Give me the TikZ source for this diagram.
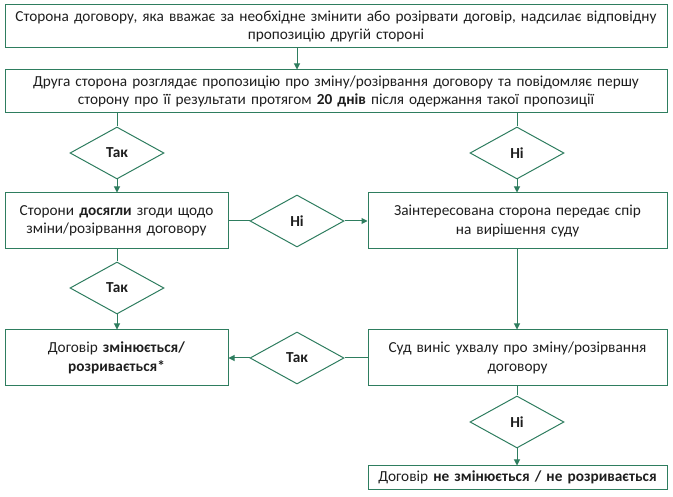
\documentclass[tikz,border=0pt]{standalone}
\usepackage{fontspec}
\setmainfont{Carlito}
\usetikzlibrary{shapes.geometric,arrows.meta,calc}
\definecolor{grn}{HTML}{2E7D5F}
\definecolor{txt}{HTML}{1E1E1E}
\begin{document}
\begin{tikzpicture}[x=1pt,y=-1pt,
  every node/.style={font=\fontsize{15.3}{18.5}\selectfont, text=txt},
  box/.style={draw=grn, line width=1pt, align=center, inner sep=0pt, minimum height=#1},
  box/.default=56pt,
  dec/.style={draw=grn, line width=1pt, diamond, inner sep=0pt, minimum width=94pt, minimum height=52pt, font=\fontsize{15.3}{18}\selectfont\bfseries},
  ln/.style={draw=grn, line width=1pt},
  arr/.style={ln, -{Triangle[length=6pt,width=6pt]}}]
\useasboundingbox (0,0) rectangle (673,497);
\node[box=43pt, minimum width=662pt, text width=660pt] (b1) at (336,26.5)
  {Сторона договору, яка вважає за необхідне змінити або розірвати договір, надсилає відповідну\\пропозицію другій стороні};
\node[box=43pt, minimum width=662pt, text width=660pt] (b2) at (336,91.5)
  {Друга сторона розглядає пропозицію про зміну/розірвання договору та повідомляє першу\\сторону про її результати протягом \textbf{20 днів} після одержання такої пропозиції};
\node[dec] (t1) at (117,153) {Так};
\node[dec] (n1) at (517,153) {Ні};
\node[box, minimum width=223pt, text width=221pt] (b3) at (116.5,221)
  {Сторони \textbf{досягли} згоди щодо\\зміни/розірвання договору};
\node[dec] (n2) at (297,221) {Ні};
\node[box, minimum width=299pt, text width=297pt] (b4) at (517.5,221)
  {Заінтересована сторона передає спір\\на вирішення суду};
\node[dec] (t2) at (117,288) {Так};
\node[box, minimum width=223pt, text width=221pt] (b5) at (116.5,358)
  {Договір \textbf{змінюється/}\\\textbf{розривається*}};
\node[dec] (t3) at (297,358) {Так};
\node[box, minimum width=299pt, text width=297pt] (b6) at (517.5,358)
  {Суд виніс ухвалу про зміну/розірвання\\договору};
\node[dec] (n3) at (517,422) {Ні};
\node[box=23pt, minimum width=299pt, text width=297pt] (b7) at (517.5,477.5)
  {Договір \textbf{не змінюється / не розривається}};
\draw[arr] (b1.south -| n2) -- (b2.north -| n2);
\draw[ln] (b2.south -| t1) -- (t1.north);
\draw[arr] (t1.south) -- (b3.north -| t1);
\draw[ln] (b2.south -| n1) -- (n1.north);
\draw[arr] (n1.south) -- (b4.north -| n1);
\draw[ln] (b3.east) -- (n2.west);
\draw[arr] (n2.east) -- (b4.west);
\draw[ln] (b3.south -| t2) -- (t2.north);
\draw[arr] (t2.south) -- (b5.north -| t2);
\draw[arr] (b4.south -| n1) -- (b6.north -| n1);
\draw[ln] (b6.west) -- (t3.east);
\draw[arr] (t3.west) -- (b5.east);
\draw[ln] (b6.south -| n3) -- (n3.north);
\draw[arr] (n3.south) -- (b7.north -| n3);
\end{tikzpicture}
\end{document}
